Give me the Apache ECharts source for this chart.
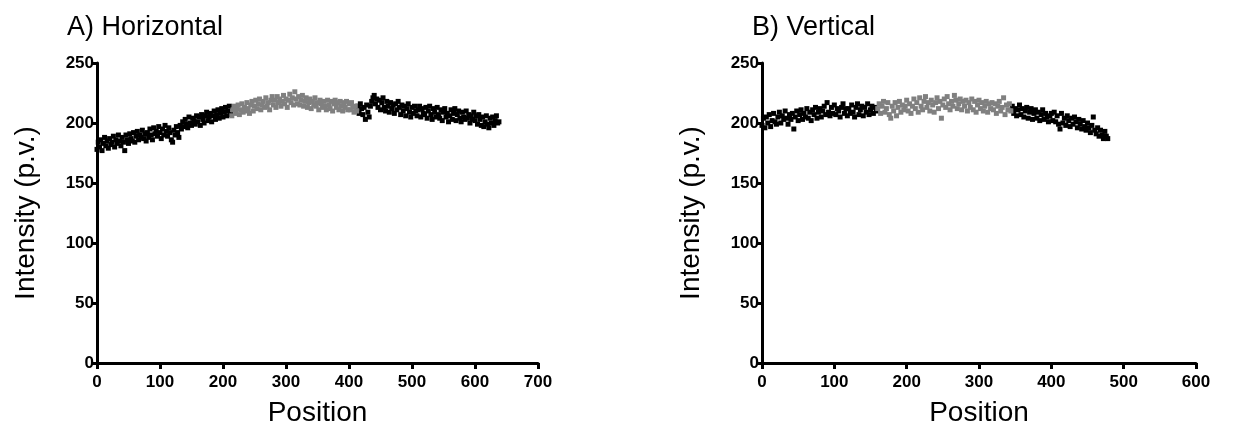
<!DOCTYPE html>
<html>
<head>
<meta charset="utf-8">
<script src="https://cdn.jsdelivr.net/npm/echarts@6/dist/echarts.min.js"></script>
<style>
  html, body { margin: 0; padding: 0; background: #fff; }
  #chart { width: 1233px; height: 433px; }
</style>
</head>
<body>
<div id="chart"></div>
<script>
// Intensity profiles (pixel values) sampled every 2 pixel positions.
const stepPx = 2;

// A) Horizontal profile, positions 0..638
const horizontalIntensity = [
  178,184,180,186,177,183,188,181,185,179,187,182,184,189,180,186,183,190,185,181,
  188,184,177,190,186,183,191,187,185,192,184,189,193,186,190,188,194,187,191,185,
  192,188,195,190,186,196,191,193,189,197,192,187,195,190,198,193,189,196,192,186,
  184,194,190,197,192,188,198,195,201,197,203,199,196,205,200,198,204,202,199,206,
  201,205,198,207,203,200,206,209,202,205,208,201,206,210,203,207,211,204,208,212,
  205,209,213,206,210,214,207,206,211,214,208,212,215,207,211,216,209,213,210,217,
  212,208,215,218,210,214,219,212,216,220,211,215,218,213,221,214,217,211,219,222,
  215,219,213,222,217,220,214,218,223,216,220,213,219,224,217,221,215,226,220,216,
  222,215,219,223,214,218,221,213,217,220,212,218,215,221,214,217,211,219,216,213,
  218,214,211,219,215,212,218,210,216,219,213,217,211,218,214,210,217,213,218,211,
  216,211,217,213,209,214,210,214,208,216,212,207,213,203,215,209,205,214,218,221,
  223,216,220,213,219,211,217,221,213,210,218,214,209,217,212,215,208,216,211,218,
  213,207,215,210,214,206,212,216,209,205,213,208,214,210,206,211,214,205,212,208,
  207,213,204,210,214,207,203,212,209,205,213,207,204,211,202,209,212,205,208,201,
  206,211,203,208,212,202,207,210,204,201,209,205,203,210,204,207,200,206,203,209,
  202,206,199,207,203,198,205,197,201,206,199,196,204,200,205,198,202,206,200,201
];
// positions of the central (grey) stretch
const horizontalCentre = [214, 412];

// B) Vertical profile, positions 0..478
const verticalIntensity = [
  198,204,196,205,200,207,197,202,208,201,199,205,209,200,206,203,210,204,199,207,
  203,208,195,205,210,202,207,211,203,208,205,212,204,209,202,211,207,213,204,209,
  212,205,210,214,207,217,209,206,213,208,215,207,212,210,205,213,216,208,212,206,
  212,208,215,209,205,213,216,207,211,214,206,213,209,216,207,211,214,208,213,210,
  212,216,208,214,218,209,212,217,207,204,214,210,217,206,213,218,209,215,211,214,
  219,210,216,208,214,220,212,217,209,221,214,211,218,222,213,217,210,219,215,209,
  217,221,212,218,204,215,220,213,222,216,211,218,214,223,219,212,216,220,211,218,
  214,219,210,217,213,220,211,218,209,215,219,212,217,210,214,218,209,216,212,217,
  211,216,208,214,218,210,213,221,207,215,211,216,210,214,208,212,206,211,215,207,
  212,205,210,213,204,209,212,203,208,211,204,209,202,207,211,203,208,205,201,206,
  208,202,209,201,206,199,195,208,200,204,198,206,202,197,204,199,205,201,196,203,
  199,195,202,197,194,200,196,192,198,205,194,191,196,189,194,190,187,193,189,187
];
const verticalCentre = [160, 344];

const xMaxA = 700, xMaxB = 600, xTick = 100;
const yMax = 250, yTick = 50;

const BLACK = '#000000';
const GREY = '#808080';

// split one profile into [outer points, central points]
function splitProfile(values, centre) {
  const outer = [], inner = [];
  values.forEach((v, i) => {
    const pos = i * stepPx;
    if (pos >= centre[0] && pos <= centre[1]) inner.push([pos, v]);
    else outer.push([pos, v]);
  });
  return [outer, inner];
}

const [hOuter, hInner] = splitProfile(horizontalIntensity, horizontalCentre);
const [vOuter, vInner] = splitProfile(verticalIntensity, verticalCentre);

const FONT = '"Liberation Sans", Arial, sans-serif';

function xAxis(gridIndex, max) {
  return {
    type: 'value', gridIndex, min: 0, max, interval: xTick,
    name: 'Position', nameLocation: 'middle', nameGap: 36,
    nameTextStyle: { fontFamily: FONT, fontSize: 28, color: '#000' },
    axisLine: { show: true, onZero: false, lineStyle: { color: BLACK, width: 3 } },
    axisTick: { show: true, length: 6, lineStyle: { color: BLACK, width: 3 } },
    axisLabel: { fontFamily: FONT, fontWeight: 'bold', fontSize: 17, color: '#000', margin: 11 },
    splitLine: { show: false }
  };
}
function yAxis(gridIndex) {
  return {
    type: 'value', gridIndex, min: 0, max: yMax, interval: yTick,
    name: 'Intensity (p.v.)', nameLocation: 'middle', nameGap: 57,
    nameTextStyle: { fontFamily: FONT, fontSize: 28, color: '#000' },
    axisLine: { show: true, onZero: false, lineStyle: { color: BLACK, width: 3 } },
    axisTick: { show: true, length: 6, lineStyle: { color: BLACK, width: 3 } },
    axisLabel: { fontFamily: FONT, fontWeight: 'bold', fontSize: 17, color: '#000', margin: 3 },
    splitLine: { show: false }
  };
}
function scatter(xi, data, color) {
  return {
    type: 'scatter', xAxisIndex: xi, yAxisIndex: xi, data,
    symbol: 'rect', symbolSize: 5,
    itemStyle: { color, opacity: 1 },
    emphasis: { disabled: true }, silent: true
  };
}

const chart = echarts.init(document.getElementById('chart'), null, { renderer: 'canvas' });
chart.setOption({
  animation: false,
  backgroundColor: '#fff',
  title: [
    { text: 'A) Horizontal', left: 62, top: 9,
      textStyle: { fontFamily: FONT, fontSize: 27, fontWeight: 'normal', color: '#000' } },
    { text: 'B) Vertical', left: 747, top: 9,
      textStyle: { fontFamily: FONT, fontSize: 27, fontWeight: 'normal', color: '#000' } }
  ],
  grid: [
    { left: 97, right: 695, top: 63, bottom: 70, outerBoundsMode: 'none' },
    { left: 762, right: 37, top: 63, bottom: 70, outerBoundsMode: 'none' }
  ],
  xAxis: [xAxis(0, xMaxA), xAxis(1, xMaxB)],
  yAxis: [yAxis(0), yAxis(1)],
  series: [
    scatter(0, hOuter, BLACK), scatter(0, hInner, GREY),
    scatter(1, vOuter, BLACK), scatter(1, vInner, GREY)
  ]
});
</script>
</body>
</html>
